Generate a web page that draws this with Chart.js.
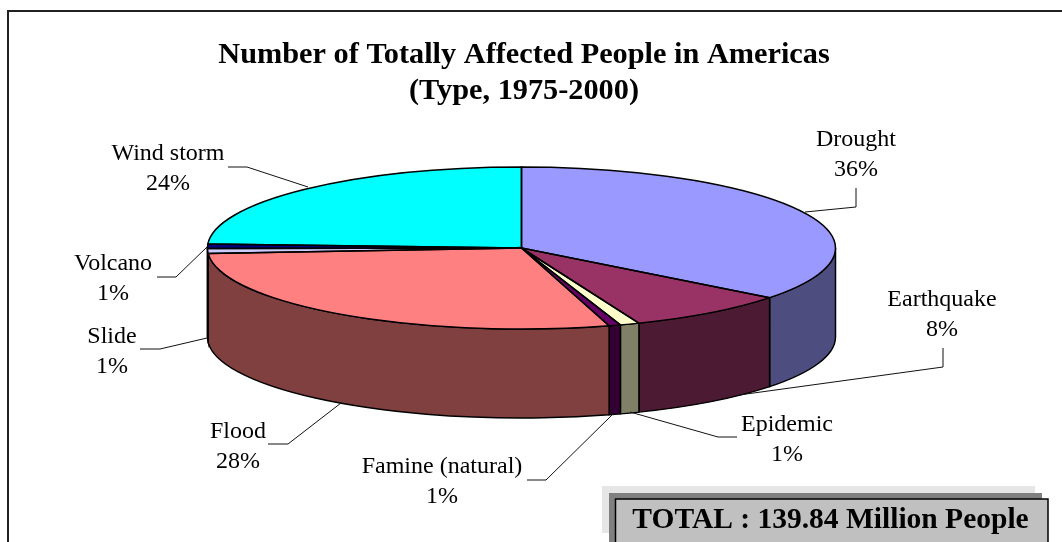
<!DOCTYPE html>
<html>
<head>
<meta charset="utf-8">
<title>Number of Totally Affected People in Americas</title>
<script src="https://cdn.jsdelivr.net/npm/chart.js@4/dist/chart.umd.min.js"></script>
<style>
    html, body { margin: 0; padding: 0; background: #fff; }
    #wrap { width: 1062px; height: 542px; overflow: hidden; }
</style>
</head>
<body>
<div id="wrap"><canvas id="pie3d"></canvas></div>
<script>
const categories = ['Drought', 'Earthquake', 'Epidemic', 'Famine (natural)', 'Flood', 'Slide', 'Volcano', 'Wind storm'];
const shares = [35.5, 8.4, 1.0, 0.6, 28.4, 1.0, 0.9, 24.2];
const sliceColors = ['#9999FF', '#993366', '#FFFFCC', '#660066', '#FF8080', '#CCCCFF', '#000080', '#00FFFF'];
const titleLines = ['Number of Totally Affected People in Americas', '(Type, 1975-2000)'];
const totalText = 'TOTAL : 139.84 Million People';

// where the pie ends up on the page
const pieBox = { cx: 521.5, cy: 248, rx: 314, ry: 81, depth: 89 };

// label centre and leader line for each category, same order as categories
const labelPlaces = [
    { x: 856, y: 140, leader: [[856, 188], [856, 207], [805, 212]] },
    { x: 942, y: 300, leader: [[943, 348], [943, 367], [739, 395]] },
    { x: 787, y: 425, leader: [[737, 437], [718, 437], [630, 412]] },
    { x: 442, y: 467, leader: [[527, 480], [546, 480], [613, 414]] },
    { x: 238, y: 432, leader: [[268, 444], [288, 444], [341, 403]] },
    { x: 112, y: 337, leader: [[140, 349], [160, 349], [207, 338]] },
    { x: 113, y: 264, leader: [[157, 277], [176, 277], [207, 247]] },
    { x: 168, y: 154, leader: [[228, 167], [247, 167], [308, 187]] }
];

const serif = "'Liberation Serif', 'Times New Roman', serif";

function halfColor(hex) {
    const n = parseInt(hex.slice(1), 16);
    const r = Math.round((n >> 16) / 2);
    const g = Math.round(((n >> 8) & 255) / 2);
    const b = Math.round((n & 255) / 2);
    return 'rgb(' + r + ',' + g + ',' + b + ')';
}

function ellipseAt(angle, dy) {
    return [pieBox.cx + pieBox.rx * Math.cos(angle), pieBox.cy + pieBox.ry * Math.sin(angle) + dy];
}

// walls of the pie, only the front half can be seen
function drawWalls(ctx, arcs) {
    arcs.forEach(function(arc, i) {
        let s = arc.startAngle;
        let e = arc.endAngle;
        if (e > Math.PI * 2) { s -= Math.PI * 2; e -= Math.PI * 2; }
        s = Math.max(s, 0);
        e = Math.min(e, Math.PI);
        if (e <= s) return;
        const a = ellipseAt(e, pieBox.depth);
        ctx.beginPath();
        ctx.ellipse(pieBox.cx, pieBox.cy, pieBox.rx, pieBox.ry, 0, s, e);
        ctx.lineTo(a[0], a[1]);
        ctx.ellipse(pieBox.cx, pieBox.cy + pieBox.depth, pieBox.rx, pieBox.ry, 0, e, s, true);
        ctx.closePath();
        ctx.fillStyle = halfColor(sliceColors[i]);
        ctx.fill();
        ctx.lineWidth = 1.5;
        ctx.strokeStyle = '#000';
        ctx.stroke();
    });
}

const pie3dPlugin = {
    id: 'pie3d',
    beforeDraw(chart) {
        // page frame, open on the right and at the bottom
        const ctx = chart.ctx;
        ctx.save();
        ctx.strokeStyle = '#222';
        ctx.lineWidth = 2;
        ctx.beginPath();
        ctx.moveTo(8, 542);
        ctx.lineTo(8, 11);
        ctx.lineTo(1062, 11);
        ctx.stroke();
        ctx.restore();
    },
    beforeDatasetsDraw(chart) {
        const ctx = chart.ctx;
        const arcs = chart.getDatasetMeta(0).data;
        ctx.save();
        drawWalls(ctx, arcs);
        // squash the flat pie of the library into the top face
        const a = arcs[0];
        const sx = pieBox.rx / a.outerRadius;
        const sy = pieBox.ry / a.outerRadius;
        ctx.setTransform(sx, 0, 0, sy, pieBox.cx - a.x * sx, pieBox.cy - a.y * sy);
    },
    afterDatasetsDraw(chart) {
        const ctx = chart.ctx;
        ctx.restore();
        const arcs = chart.getDatasetMeta(0).data;

        ctx.save();
        ctx.strokeStyle = '#000';
        ctx.lineWidth = 1.5;
        arcs.forEach(function(arc) {
            ctx.beginPath();
            ctx.moveTo(pieBox.cx, pieBox.cy);
            ctx.ellipse(pieBox.cx, pieBox.cy, pieBox.rx, pieBox.ry, 0, arc.startAngle, arc.endAngle);
            ctx.closePath();
            ctx.stroke();
        });

        // leader lines and labels
        ctx.lineWidth = 1;
        ctx.strokeStyle = '#111';
        ctx.fillStyle = '#000';
        ctx.font = '24px ' + serif;
        ctx.textAlign = 'center';
        ctx.textBaseline = 'middle';
        categories.forEach(function(name, i) {
            const place = labelPlaces[i];
            ctx.beginPath();
            place.leader.forEach(function(p, k) {
                if (k === 0) ctx.moveTo(p[0], p[1]);
                else ctx.lineTo(p[0], p[1]);
            });
            ctx.stroke();
            ctx.fillText(name, place.x, place.y);
            ctx.fillText(Math.round(shares[i]) + '%', place.x, place.y + 30);
        });

        // total box with its two shadows
        ctx.fillStyle = '#E6E6E6';
        ctx.fillRect(602, 486, 433, 47);
        ctx.fillStyle = '#808080';
        ctx.fillRect(609, 493, 433, 49);
        ctx.fillStyle = '#C0C0C0';
        ctx.fillRect(615, 499, 433, 44);
        ctx.strokeStyle = '#000';
        ctx.lineWidth = 1.5;
        ctx.beginPath();
        ctx.moveTo(615.5, 542);
        ctx.lineTo(615.5, 499);
        ctx.lineTo(1048, 499);
        ctx.lineTo(1048, 542);
        ctx.stroke();
        ctx.fillStyle = '#000';
        ctx.font = 'bold 29.5px ' + serif;
        ctx.fillText(totalText, 830.5, 520);
        ctx.restore();
    }
};

new Chart(document.getElementById('pie3d').getContext('2d'), {
    type: 'pie',
    data: {
        labels: categories,
        datasets: [{
            data: shares,
            backgroundColor: sliceColors,
            borderWidth: 0,
            clip: false
        }]
    },
    options: {
        responsive: true,
        maintainAspectRatio: false,
        animation: false,
        // right padding moves the full width title left of the page centre
        layout: { padding: { top: 0, bottom: 20, right: 14 } },
        plugins: {
            legend: { display: false },
            tooltip: { enabled: false },
            title: {
                display: true,
                text: titleLines,
                color: '#000',
                font: { family: serif, size: 30.3, weight: 'bold', lineHeight: 1.16 },
                padding: { top: 38, bottom: 10 }
            }
        }
    },
    plugins: [pie3dPlugin]
});
</script>
</body>
</html>
